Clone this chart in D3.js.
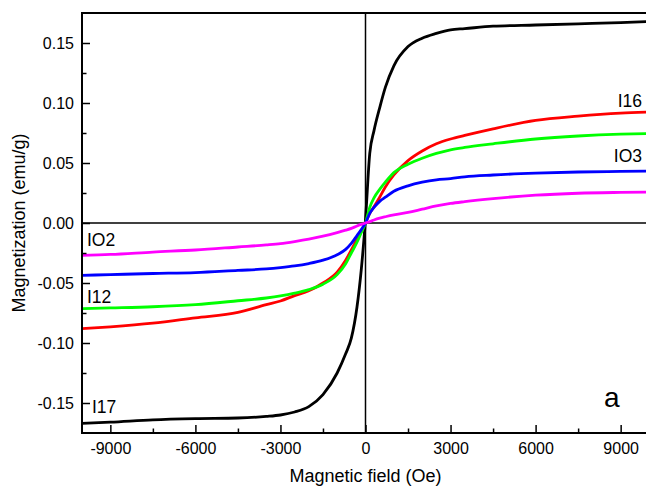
<!DOCTYPE html>
<html>
<head>
<meta charset="utf-8">
<script src="https://cdn.jsdelivr.net/npm/d3@7"></script>
<style>
  body { margin: 0; background: #fff; }
  svg text { font-family: "Liberation Sans", Arial, sans-serif; fill: #000; }
</style>
</head>
<body>
<div id="chart"></div>
<script>
// Field grid (Oe) shared by all samples
const fields = [-10000, -9000, -7500, -6000, -4500, -3500, -3000, -2500, -2000, -1500, -1000, -700, -500, -300, -150, 0,
    150, 300, 500, 700, 1000, 1500, 2000, 2500, 3000, 3500, 4500, 6000, 7500, 9000, 10000];

// Magnetization (emu/g)
const mI17 = [-0.167, -0.166, -0.164, -0.163, -0.1625, -0.1612, -0.160, -0.1575, -0.153, -0.143, -0.125, -0.109, -0.096, -0.070, -0.039, 0.003,
    0.058, 0.077, 0.096, 0.113, 0.131, 0.147, 0.154, 0.158, 0.161, 0.162, 0.164, 0.165, 0.166, 0.167, 0.168];
const mI16 = [-0.088, -0.0865, -0.0835, -0.079, -0.0745, -0.068, -0.065, -0.0605, -0.0565, -0.050, -0.041, -0.031, -0.0225, -0.0135, -0.007, 0,
    0.008, 0.0135, 0.0215, 0.030, 0.040, 0.052, 0.060, 0.066, 0.070, 0.073, 0.0785, 0.0855, 0.089, 0.0915, 0.0925];
const mI12 = [-0.0714, -0.0708, -0.0698, -0.068, -0.0648, -0.0625, -0.0608, -0.0585, -0.0555, -0.051, -0.043, -0.034, -0.025, -0.016, -0.008, 0,
    0.013, 0.021, 0.028, 0.034, 0.042, 0.049, 0.054, 0.058, 0.061, 0.063, 0.066, 0.070, 0.0725, 0.074, 0.0745];
const mIO3 = [-0.0436, -0.043, -0.0421, -0.0413, -0.0395, -0.0383, -0.0372, -0.0358, -0.0338, -0.031, -0.0265, -0.022, -0.017, -0.0105, -0.0055, 0,
    0.008, 0.013, 0.018, 0.0215, 0.0265, 0.031, 0.034, 0.036, 0.037, 0.0385, 0.040, 0.0415, 0.0425, 0.043, 0.0433];
const mIO2 = [-0.0269, -0.0262, -0.0242, -0.0225, -0.020, -0.0183, -0.0172, -0.0155, -0.0135, -0.011, -0.008, -0.006, -0.0045, -0.0025, -0.0012, 0,
    0.0012, 0.0025, 0.0040, 0.0052, 0.0068, 0.0088, 0.0115, 0.0142, 0.0163, 0.0178, 0.0203, 0.0232, 0.0248, 0.0255, 0.0258];

const sampleNames = ["I17", "I16", "I12", "IO3", "IO2"];
const sampleColors = ["#000000", "#ff0000", "#00ff00", "#0000ff", "#ff00ff"];
const sampleValues = [mI17, mI16, mI12, mIO3, mIO2];

// Axis ticks
const xTicks = [-9000, -6000, -3000, 0, 3000, 6000, 9000];
const xTickLabels = ["-9000", "-6000", "-3000", "0", "3000", "6000", "9000"];
const xMinor = [-7500, -4500, -1500, 1500, 4500, 7500];
const yTicks = [-0.15, -0.10, -0.05, 0, 0.05, 0.10, 0.15];
const yTickLabels = ["-0.15", "-0.10", "-0.05", "0.00", "0.05", "0.10", "0.15"];
const yMinor = [-0.125, -0.075, -0.025, 0.025, 0.075, 0.125];

const W = 646, H = 489;
const plot = { left: 82, right: 649, top: 13, bottom: 433 };

const svg = d3.select("#chart").append("svg")
    .attr("width", W)
    .attr("height", H);

const x = d3.scaleLinear().domain([-10000, 10000]).range([plot.left, plot.right]);
const y = d3.scaleLinear().domain([-0.175, 0.175]).range([plot.bottom, plot.top]);

// zero lines
svg.append("line")
    .attr("x1", x(0)).attr("x2", x(0))
    .attr("y1", plot.top).attr("y2", plot.bottom)
    .attr("stroke", "#000").attr("stroke-width", 1.5);
svg.append("line")
    .attr("x1", plot.left).attr("x2", plot.right)
    .attr("y1", y(0)).attr("y2", y(0))
    .attr("stroke", "#000").attr("stroke-width", 1.5);

// curves
const line = d3.line()
    .x((d, i) => x(fields[i]))
    .y(d => y(d))
    .curve(d3.curveMonotoneX);

sampleValues.forEach((vals, k) => {
    svg.append("path")
        .datum(vals)
        .attr("fill", "none")
        .attr("stroke", sampleColors[k])
        .attr("stroke-width", 2.8)
        .attr("stroke-linejoin", "round")
        .attr("d", line);
});

// frame
svg.append("rect")
    .attr("x", plot.left).attr("y", plot.top)
    .attr("width", plot.right - plot.left).attr("height", plot.bottom - plot.top)
    .attr("fill", "none")
    .attr("stroke", "#000")
    .attr("stroke-width", 2);

// x axis (ticks point inward)
svg.append("g")
    .attr("transform", `translate(0,${plot.bottom})`)
    .call(d3.axisBottom(x).tickValues(xTicks).tickSize(-8).tickPadding(10)
        .tickFormat((d, i) => xTickLabels[i]));
svg.append("g")
    .attr("transform", `translate(0,${plot.bottom})`)
    .call(d3.axisBottom(x).tickValues(xMinor).tickSize(-4.5).tickFormat(""));

// y axis
svg.append("g")
    .attr("transform", `translate(${plot.left},0)`)
    .call(d3.axisLeft(y).tickValues(yTicks).tickSize(-8).tickPadding(8)
        .tickFormat((d, i) => yTickLabels[i]));
svg.append("g")
    .attr("transform", `translate(${plot.left},0)`)
    .call(d3.axisLeft(y).tickValues(yMinor).tickSize(-4.5).tickFormat(""));

svg.selectAll(".domain").remove();
svg.selectAll(".tick line").attr("stroke", "#000").attr("stroke-width", 1.5);
svg.selectAll(".tick text").attr("font-size", "16px")
    .attr("font-family", "'Liberation Sans', Arial, sans-serif");

// axis titles
svg.append("text")
    .attr("x", (plot.left + 649) / 2)
    .attr("y", 482)
    .attr("text-anchor", "middle")
    .attr("font-size", "18px")
    .text("Magnetic field (Oe)");

svg.append("text")
    .attr("transform", `translate(25,${(plot.top + plot.bottom) / 2}) rotate(-90)`)
    .attr("text-anchor", "middle")
    .attr("font-size", "18px")
    .text("Magnetization (emu/g)");

// sample labels
const labels = [
    { t: "IO2", x: 87, y: 246, a: "start" },
    { t: "I12", x: 87, y: 303, a: "start" },
    { t: "I17", x: 92, y: 413, a: "start" },
    { t: "I16", x: 642, y: 107, a: "end" },
    { t: "IO3", x: 642, y: 162, a: "end" }
];
svg.selectAll(".lab")
    .data(labels)
    .enter().append("text")
    .attr("class", "lab")
    .attr("x", d => d.x)
    .attr("y", d => d.y)
    .attr("text-anchor", d => d.a)
    .attr("font-size", "17.5px")
    .text(d => d.t);

svg.append("text")
    .attr("x", 604)
    .attr("y", 407)
    .attr("font-size", "28px")
    .text("a");
</script>
</body>
</html>
